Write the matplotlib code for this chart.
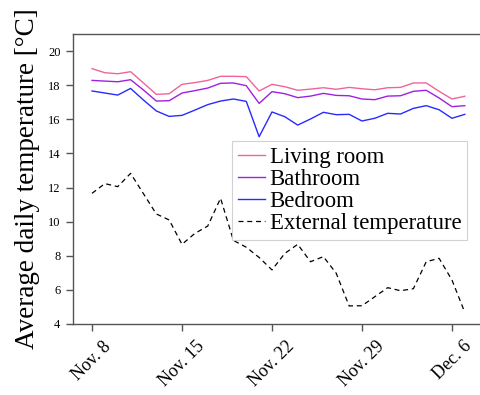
import matplotlib
matplotlib.use("Agg")
import matplotlib.pyplot as plt
import matplotlib.dates as mdates
import pandas as pd

# Daily averages, 8 Nov - 7 Dec
dates = pd.date_range("2015-11-08", periods=30, freq="D")
living_room = [18.97, 18.73, 18.67, 18.79, 18.13, 17.46, 17.50, 18.05, 18.15, 18.28,
               18.52, 18.52, 18.50, 17.66, 18.05, 17.91, 17.70, 17.77, 17.85, 17.76,
               17.87, 17.79, 17.73, 17.85, 17.87, 18.13, 18.13, 17.64, 17.19, 17.35]
bathroom = [18.28, 18.24, 18.20, 18.32, 17.72, 17.07, 17.09, 17.54, 17.68, 17.83,
            18.11, 18.13, 17.97, 16.93, 17.62, 17.50, 17.27, 17.36, 17.52, 17.40,
            17.38, 17.19, 17.15, 17.36, 17.38, 17.64, 17.70, 17.25, 16.74, 16.80]
bedroom = [17.66, 17.54, 17.42, 17.81, 17.13, 16.49, 16.17, 16.23, 16.54, 16.86,
           17.07, 17.19, 17.05, 14.98, 16.43, 16.15, 15.66, 16.02, 16.41, 16.27,
           16.29, 15.90, 16.06, 16.35, 16.31, 16.64, 16.80, 16.56, 16.06, 16.29]
external = [11.66, 12.23, 12.05, 12.83, 11.64, 10.45, 10.10, 8.67, 9.31, 9.74,
            11.37, 8.90, 8.50, 7.90, 7.17, 8.14, 8.67, 7.65, 7.95, 6.97,
            5.06, 5.07, 5.60, 6.13, 5.95, 6.07, 7.65, 7.85, 6.58, 4.68]

tick_dates = pd.to_datetime(["2015-11-08", "2015-11-15", "2015-11-22",
                             "2015-11-29", "2015-12-06"])
tick_labels = ["Nov. 8", "Nov. 15", "Nov. 22", "Nov. 29", "Dec. 6"]
y_ticks = [4, 6, 8, 10, 12, 14, 16, 18, 20]

plt.rcParams["font.family"] = ["Liberation Serif", "DejaVu Serif"]

fig = plt.figure(figsize=(4.8, 3.95), dpi=100)
ax = fig.add_axes([73 / 480, 71 / 395, 408 / 480, 290 / 395])

ax.plot(dates, living_room, color="#f0649c", lw=1.0, label="Living room")
ax.plot(dates, bathroom, color="#a020e0", lw=1.0, label="Bathroom")
ax.plot(dates, bedroom, color="#2a2aff", lw=1.0, label="Bedroom")
ax.plot(dates, external, color="black", lw=0.9, dashes=(4, 3),
        label="External temperature")

ax.set_ylim(4, 21)
ax.set_xlim(pd.Timestamp("2015-11-08") - pd.Timedelta(days=1.48),
            pd.Timestamp("2015-11-08") + pd.Timedelta(days=30.26))
ax.set_yticks(y_ticks)
ax.set_yticklabels([str(v) for v in y_ticks], fontsize=9)
ax.set_xticks(tick_dates)
ax.set_xticklabels(tick_labels, fontsize=13, rotation=45)

ax.spines["right"].set_visible(False)
for s in ("left", "bottom", "top"):
    ax.spines[s].set_color("#555555")
    ax.spines[s].set_linewidth(1.0)
ax.tick_params(axis="both", direction="out", color="#555555", width=1.0)
ax.tick_params(axis="y", length=5, pad=4)
ax.tick_params(axis="x", length=5, pad=5)

ax.set_ylabel("Average daily temperature [°C]", fontsize=19.5, labelpad=6)

leg = ax.legend(loc="upper left", bbox_to_anchor=(232 / 480, 1 - 141 / 395),
                bbox_transform=fig.transFigure, borderaxespad=0,
                fontsize=16.4, handlelength=1.2, handletextpad=0.2,
                labelspacing=0.05, borderpad=0.25, fancybox=False,
                edgecolor="#cccccc", framealpha=0.9)
leg.get_frame().set_linewidth(0.8)

fig.savefig("out.png", dpi=100)
